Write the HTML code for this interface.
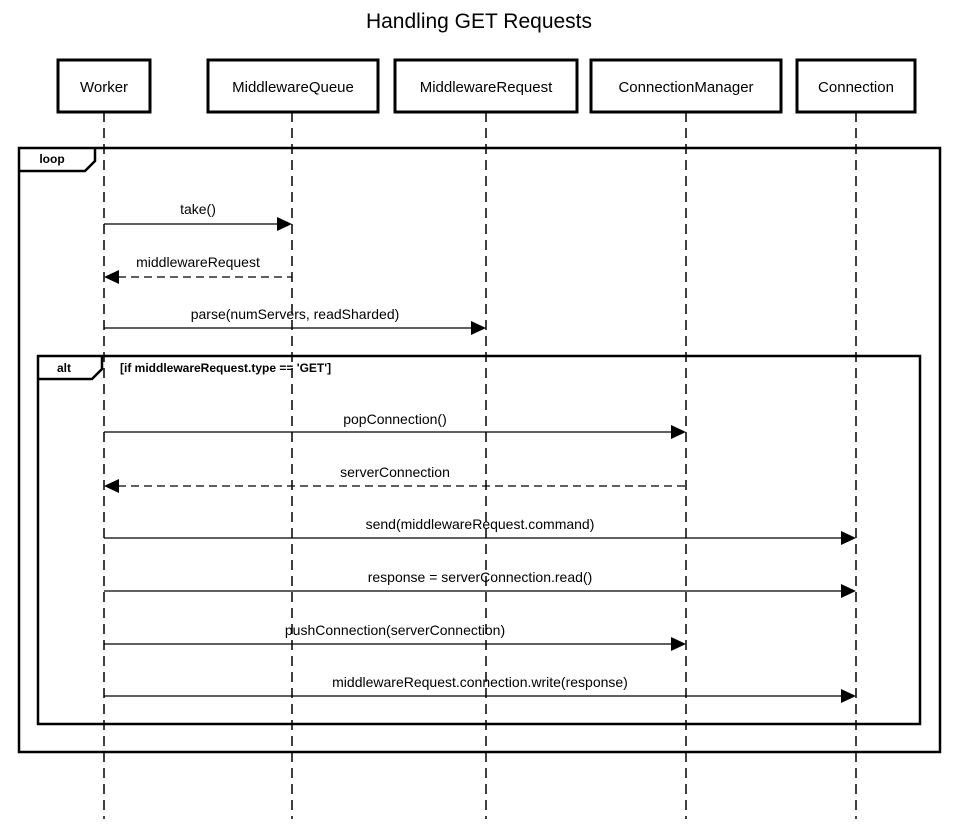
<!DOCTYPE html>
<html><head><style>body{margin:0;background:#fff}</style></head><body>
<svg width="959" height="819" xmlns="http://www.w3.org/2000/svg" font-family="Liberation Sans, Arial, sans-serif">
<rect width="959" height="819" fill="#fff"/>
<text x="479" y="28" font-size="21" text-anchor="middle">Handling GET Requests</text>
<g stroke="#000" stroke-width="1.5" stroke-dasharray="10,6" fill="none">
<line x1="104" y1="112" x2="104" y2="819"/>
<line x1="292" y1="112" x2="292" y2="819"/>
<line x1="486" y1="112" x2="486" y2="819"/>
<line x1="686" y1="112" x2="686" y2="819"/>
<line x1="856" y1="112" x2="856" y2="819"/>
</g>
<g stroke="#000" stroke-width="3" fill="#fff">
<rect x="58" y="60" width="92" height="52"/>
<rect x="208" y="60" width="170" height="52"/>
<rect x="395" y="60" width="182" height="52"/>
<rect x="591" y="60" width="190" height="52"/>
<rect x="797" y="60" width="118" height="52"/>
</g>
<g font-size="15" text-anchor="middle">
<text x="104" y="92">Worker</text>
<text x="293" y="92">MiddlewareQueue</text>
<text x="486" y="92">MiddlewareRequest</text>
<text x="686" y="92">ConnectionManager</text>
<text x="856" y="92">Connection</text>
</g>
<g stroke="#000" stroke-width="2.5" fill="none">
<rect x="19" y="148" width="921" height="604"/>
<polyline points="19,171 85,171 95,161 95,148"/>
<rect x="38" y="356" width="882" height="368"/>
<polyline points="38,379 92,379 102,369 102,356"/>
</g>
<text x="52" y="163" font-size="12" font-weight="bold" text-anchor="middle">loop</text>
<text x="64" y="372" font-size="12" font-weight="bold" text-anchor="middle">alt</text>
<text x="120" y="372" font-size="12" font-weight="bold">[if middlewareRequest.type == 'GET']</text>
<g stroke="#000" stroke-width="1.3" fill="none">
<line x1="104" y1="224" x2="278" y2="224"/>
<line x1="118" y1="277" x2="292" y2="277" stroke-dasharray="8,5"/>
<line x1="104" y1="328" x2="472" y2="328"/>
<line x1="104" y1="432" x2="672" y2="432"/>
<line x1="118" y1="486" x2="686" y2="486" stroke-dasharray="8,5"/>
<line x1="104" y1="538" x2="842" y2="538"/>
<line x1="104" y1="591" x2="842" y2="591"/>
<line x1="104" y1="644" x2="672" y2="644"/>
<line x1="104" y1="696" x2="842" y2="696"/>
</g>
<g fill="#000">
<polygon points="292,224 277,217 277,231"/>
<polygon points="104,277 119,270 119,284"/>
<polygon points="486,328 471,321 471,335"/>
<polygon points="686,432 671,425 671,439"/>
<polygon points="104,486 119,479 119,493"/>
<polygon points="856,538 841,531 841,545"/>
<polygon points="856,591 841,584 841,598"/>
<polygon points="686,644 671,637 671,651"/>
<polygon points="856,696 841,689 841,703"/>
</g>
<g font-size="14" text-anchor="middle">
<text x="198" y="214">take()</text>
<text x="198" y="267">middlewareRequest</text>
<text x="295" y="319">parse(numServers, readSharded)</text>
<text x="395" y="424">popConnection()</text>
<text x="395" y="477">serverConnection</text>
<text x="480" y="529">send(middlewareRequest.command)</text>
<text x="480" y="582">response = serverConnection.read()</text>
<text x="395" y="635">pushConnection(serverConnection)</text>
<text x="480" y="687">middlewareRequest.connection.write(response)</text>
</g>
</svg>
</body></html>
